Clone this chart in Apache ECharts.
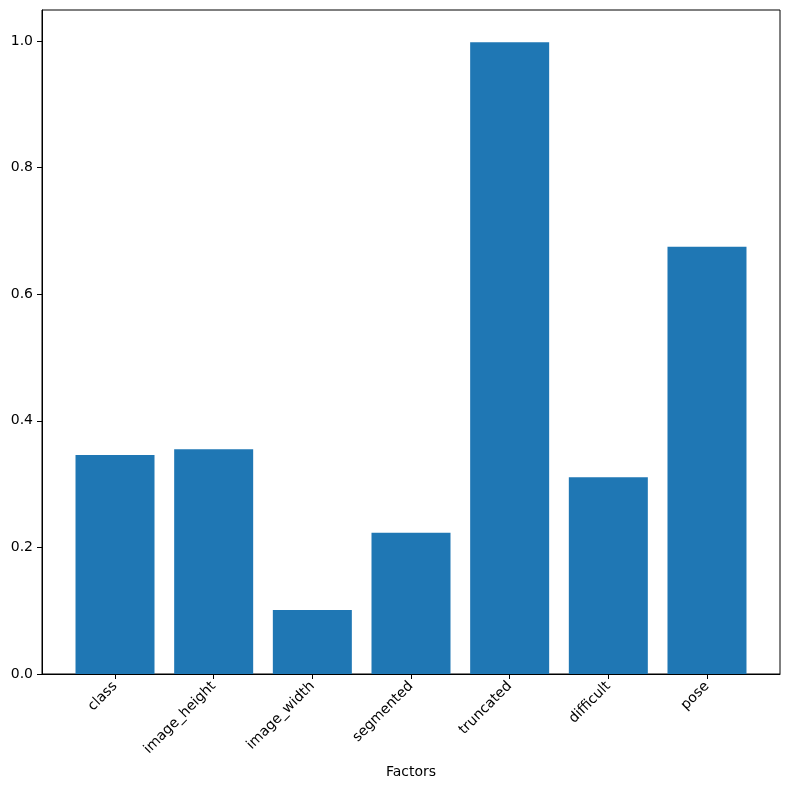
<!DOCTYPE html>
<html>
<head>
<meta charset="utf-8">
<script src="https://cdn.jsdelivr.net/npm/echarts@6/dist/echarts.min.js"></script>
<style>
  html, body { margin: 0; padding: 0; background: #fff; }
  #chart { width: 790px; height: 790px; }
</style>
</head>
<body>
<div id="chart"></div>
<script>
// factors and their values
var categories = ['class', 'image_height', 'image_width', 'segmented', 'truncated', 'difficult', 'pose'];
var values = [0.346, 0.355, 0.101, 0.223, 0.998, 0.311, 0.675];
var yTicks = [0, 0.2, 0.4, 0.6, 0.8, 1.0];

var xTicks = categories.map(function (c, i) { return i; });
var barData = values.map(function (v, i) { return [i, v]; });

var chart = echarts.init(document.getElementById('chart'));
var textStyle = { color: '#000', fontFamily: 'DejaVu Sans', fontSize: 14 };

chart.setOption({
  animation: false,
  grid: {
    left: 42, right: 10, top: 10, bottom: 116,
    show: true, borderColor: '#000', borderWidth: 1,
    containLabel: false
  },
  xAxis: {
    type: 'value',
    min: -0.74,
    max: 6.74,
    name: 'Factors',
    nameLocation: 'middle',
    nameGap: 91,
    nameTextStyle: textStyle,
    splitLine: { show: false },
    axisLine: { show: true, onZero: false, lineStyle: { color: '#000', width: 1 } },
    axisTick: { show: true, length: 5, customValues: xTicks, lineStyle: { color: '#000' } },
    axisLabel: Object.assign({
      customValues: xTicks,
      rotate: 45,
      margin: 10,
      formatter: function (v) { return categories[Math.round(v)]; }
    }, textStyle)
  },
  yAxis: {
    type: 'value',
    min: 0,
    max: 1.049,
    splitLine: { show: false },
    axisLine: { show: true, onZero: false, lineStyle: { color: '#000', width: 1 } },
    axisTick: { show: true, length: 5, customValues: yTicks, lineStyle: { color: '#000' } },
    axisLabel: Object.assign({
      customValues: yTicks,
      margin: 9,
      formatter: function (v) { return v.toFixed(1); }
    }, textStyle)
  },
  series: [{
    type: 'bar',
    data: barData,
    barWidth: 79,
    itemStyle: { color: '#1f77b4' }
  }]
});
</script>
</body>
</html>
